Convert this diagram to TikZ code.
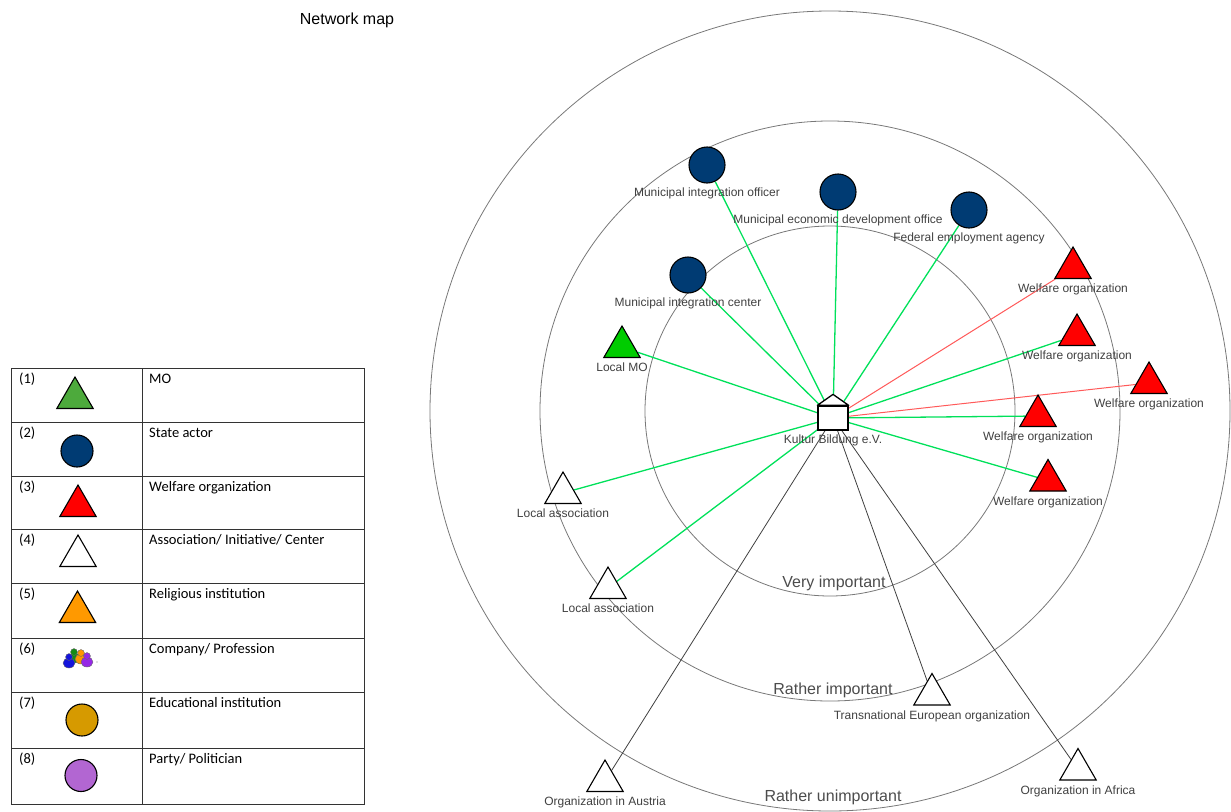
\documentclass[tikz,border=0pt]{standalone}
\usepackage{fontspec}
\setmainfont{Liberation Sans}
\newfontfamily\legfont{Carlito}
\usetikzlibrary{shapes.geometric,backgrounds}

\definecolor{navy}{RGB}{0,59,115}
\definecolor{moverde}{RGB}{0,204,0}
\definecolor{leyverde}{RGB}{77,170,60}
\definecolor{rojo}{RGB}{255,0,0}
\definecolor{naranja}{RGB}{255,153,0}
\definecolor{ocre}{RGB}{214,154,0}
\definecolor{lila}{RGB}{178,102,210}
\definecolor{lineaverde}{RGB}{0,225,90}
\definecolor{linearoja}{RGB}{255,90,90}
\definecolor{gris}{RGB}{120,120,120}
\definecolor{texto}{RGB}{64,64,64}
\definecolor{iconazul}{RGB}{20,20,220}
\definecolor{iconverde}{RGB}{20,140,20}
\definecolor{iconnaranja}{RGB}{255,150,0}
\definecolor{iconlila}{RGB}{150,40,230}

\begin{document}
\begin{tikzpicture}[x=1pt,y=-1pt,
    actor/.style={circle, draw=black, line width=1.1pt, fill=navy, minimum size=36pt, inner sep=0pt},
    tri/.style={regular polygon, regular polygon sides=3, draw=black, line width=1.1pt, minimum size=42pt, inner sep=0pt},
    lbl/.style={text=texto, font=\fontsize{12}{14}\selectfont, inner sep=1pt},
    ringline/.style={draw=gris, line width=0.8pt},
    ringlbl/.style={text=black!70, font=\fontsize{16}{18}\selectfont},
    verde/.style={draw=lineaverde, line width=1.3pt},
    roja/.style={draw=linearoja, line width=1pt},
    negra/.style={draw=black!75, line width=0.8pt},
    legtxt/.style={font=\legfont\fontsize{14.5}{16}\selectfont, anchor=base west, inner sep=0pt}]
    \useasboundingbox (0,0) rectangle (1231,811);

    % Titulo
    \node[font=\fontsize{16}{18}\selectfont] (titulo) at (347,20) {Network map};

    % Actores
    \node[actor, label={[lbl,label distance=3pt]below:Municipal integration officer}] (officer) at (707,165) {};
    \node[actor, label={[lbl,label distance=3pt]below:Municipal economic development office}] (econ) at (838,192) {};
    \node[actor, label={[lbl,label distance=3pt]below:Federal employment agency}] (federal) at (969,210) {};
    \node[actor, label={[lbl,label distance=3pt]below:Municipal integration center}] (intcenter) at (688,275) {};
    \node[tri, fill=moverde, label={[lbl,label distance=4pt]below:Local MO}] (localmo) at (622,347) {};
    \node[tri, fill=rojo, label={[lbl,label distance=4pt]below:Welfare organization}] (wf1) at (1073,268) {};
    \node[tri, fill=rojo, label={[lbl,label distance=4pt]below:Welfare organization}] (wf2) at (1077,335) {};
    \node[tri, fill=rojo, label={[lbl,label distance=4pt]below:Welfare organization}] (wf3) at (1149,383) {};
    \node[tri, fill=rojo, label={[lbl,label distance=4pt]below:Welfare organization}] (wf4) at (1038,416) {};
    \node[tri, fill=rojo, label={[lbl,label distance=4pt]below:Welfare organization}] (wf5) at (1048,480.5) {};
    \node[tri, fill=white, label={[lbl,label distance=4pt]below:Local association}] (assoc1) at (563,493) {};
    \node[tri, fill=white, label={[lbl,label distance=4pt]below:Local association}] (assoc2) at (608,588) {};
    \node[tri, fill=white, label={[lbl,label distance=4pt]below:Transnational European organization}] (transeu) at (932,694.5) {};
    \node[tri, fill=white, label={[lbl,label distance=4pt]below:Organization in Austria}] (austria) at (605,781) {};
    \node[tri, fill=white, label={[lbl,label distance=4pt]below:Organization in Africa}] (africa) at (1078,769.5) {};

    % Centro (casa)
    \node[draw=black, line width=1.3pt, fill=white, minimum width=30pt, minimum height=24pt, inner sep=0pt,
          label={[lbl,label distance=3pt]below:Kultur Bildung e.V.}] (hub) at (833,418) {};
    \draw[line width=1.3pt, fill=white, line join=round] (hub.north west) -- ([yshift=11pt]hub.north) -- (hub.north east) -- cycle;

    % Anillos y conexiones
    \begin{scope}[on background layer]
        \draw[ringline] (830,411) circle[radius=185pt];
        \draw[ringline] (830,411) circle[radius=290pt];
        \draw[ringline] (830,411) circle[radius=400pt];
        \foreach \a in {officer,econ,federal,intcenter,localmo,wf2,wf4,wf5,assoc1,assoc2}
            \draw[verde] (\a) -- (hub.center);
        \foreach \a in {wf1,wf3}
            \draw[roja] (\a) -- (hub.center);
        \foreach \a in {transeu,austria,africa}
            \draw[negra] (\a) -- (hub.center);
    \end{scope}

    % Etiquetas de los anillos
    \node[ringlbl] (muy) at (834,583) {Very important};
    \node[ringlbl] (bastante) at (833,690) {Rather important};
    \node[ringlbl] (poco) at (833,797) {Rather unimportant};

    % Leyenda
    \draw[black!80, line width=0.9pt] (11,368) rectangle (364,804);
    \draw[black!80, line width=0.9pt] (142,368) -- (142,804);
    \foreach \y in {422,476,529,583,638,692,748}
        \draw[black!80, line width=0.9pt] (11,\y) -- (364,\y);
    \foreach \n/\t/\txt in {1/368/MO, 2/422/State actor, 3/476/Welfare organization,
        4/529/{Association/ Initiative/ Center}, 5/583/Religious institution,
        6/638/{Company/ Profession}, 7/692/Educational institution, 8/748/{Party/ Politician}} {
        \node[legtxt] (num\n) at (19,\t+15) {(\n)};
        \node[legtxt] (txt\n) at (149,\t+15) {\txt};
    }
    \node[tri, fill=leyverde] (ley1) at (75,398) {};
    \node[actor, minimum size=32pt] (ley2) at (77,451) {};
    \node[tri, fill=rojo] (ley3) at (78,506) {};
    \node[tri, fill=white] (ley4) at (78,556) {};
    \node[tri, fill=naranja] (ley5) at (77.5,612) {};
    \foreach \px/\py/\pc in {74/652/iconverde, 81/653/iconnaranja, 69/657/iconazul, 87/656/iconlila} {
        \filldraw[fill=\pc, draw=black!60, line width=0.4pt] (\px,\py+6) ellipse (6pt and 5pt);
        \filldraw[fill=\pc, draw=black!60, line width=0.4pt] (\px,\py) circle (3.4pt);
    }
    \fill[black!50] (97,662) circle (0.7pt);
    \node[actor, fill=ocre, minimum size=32pt] (ley7) at (82,720) {};
    \node[actor, fill=lila, minimum size=32pt] (ley8) at (81,775.5) {};
\end{tikzpicture}
\end{document}
